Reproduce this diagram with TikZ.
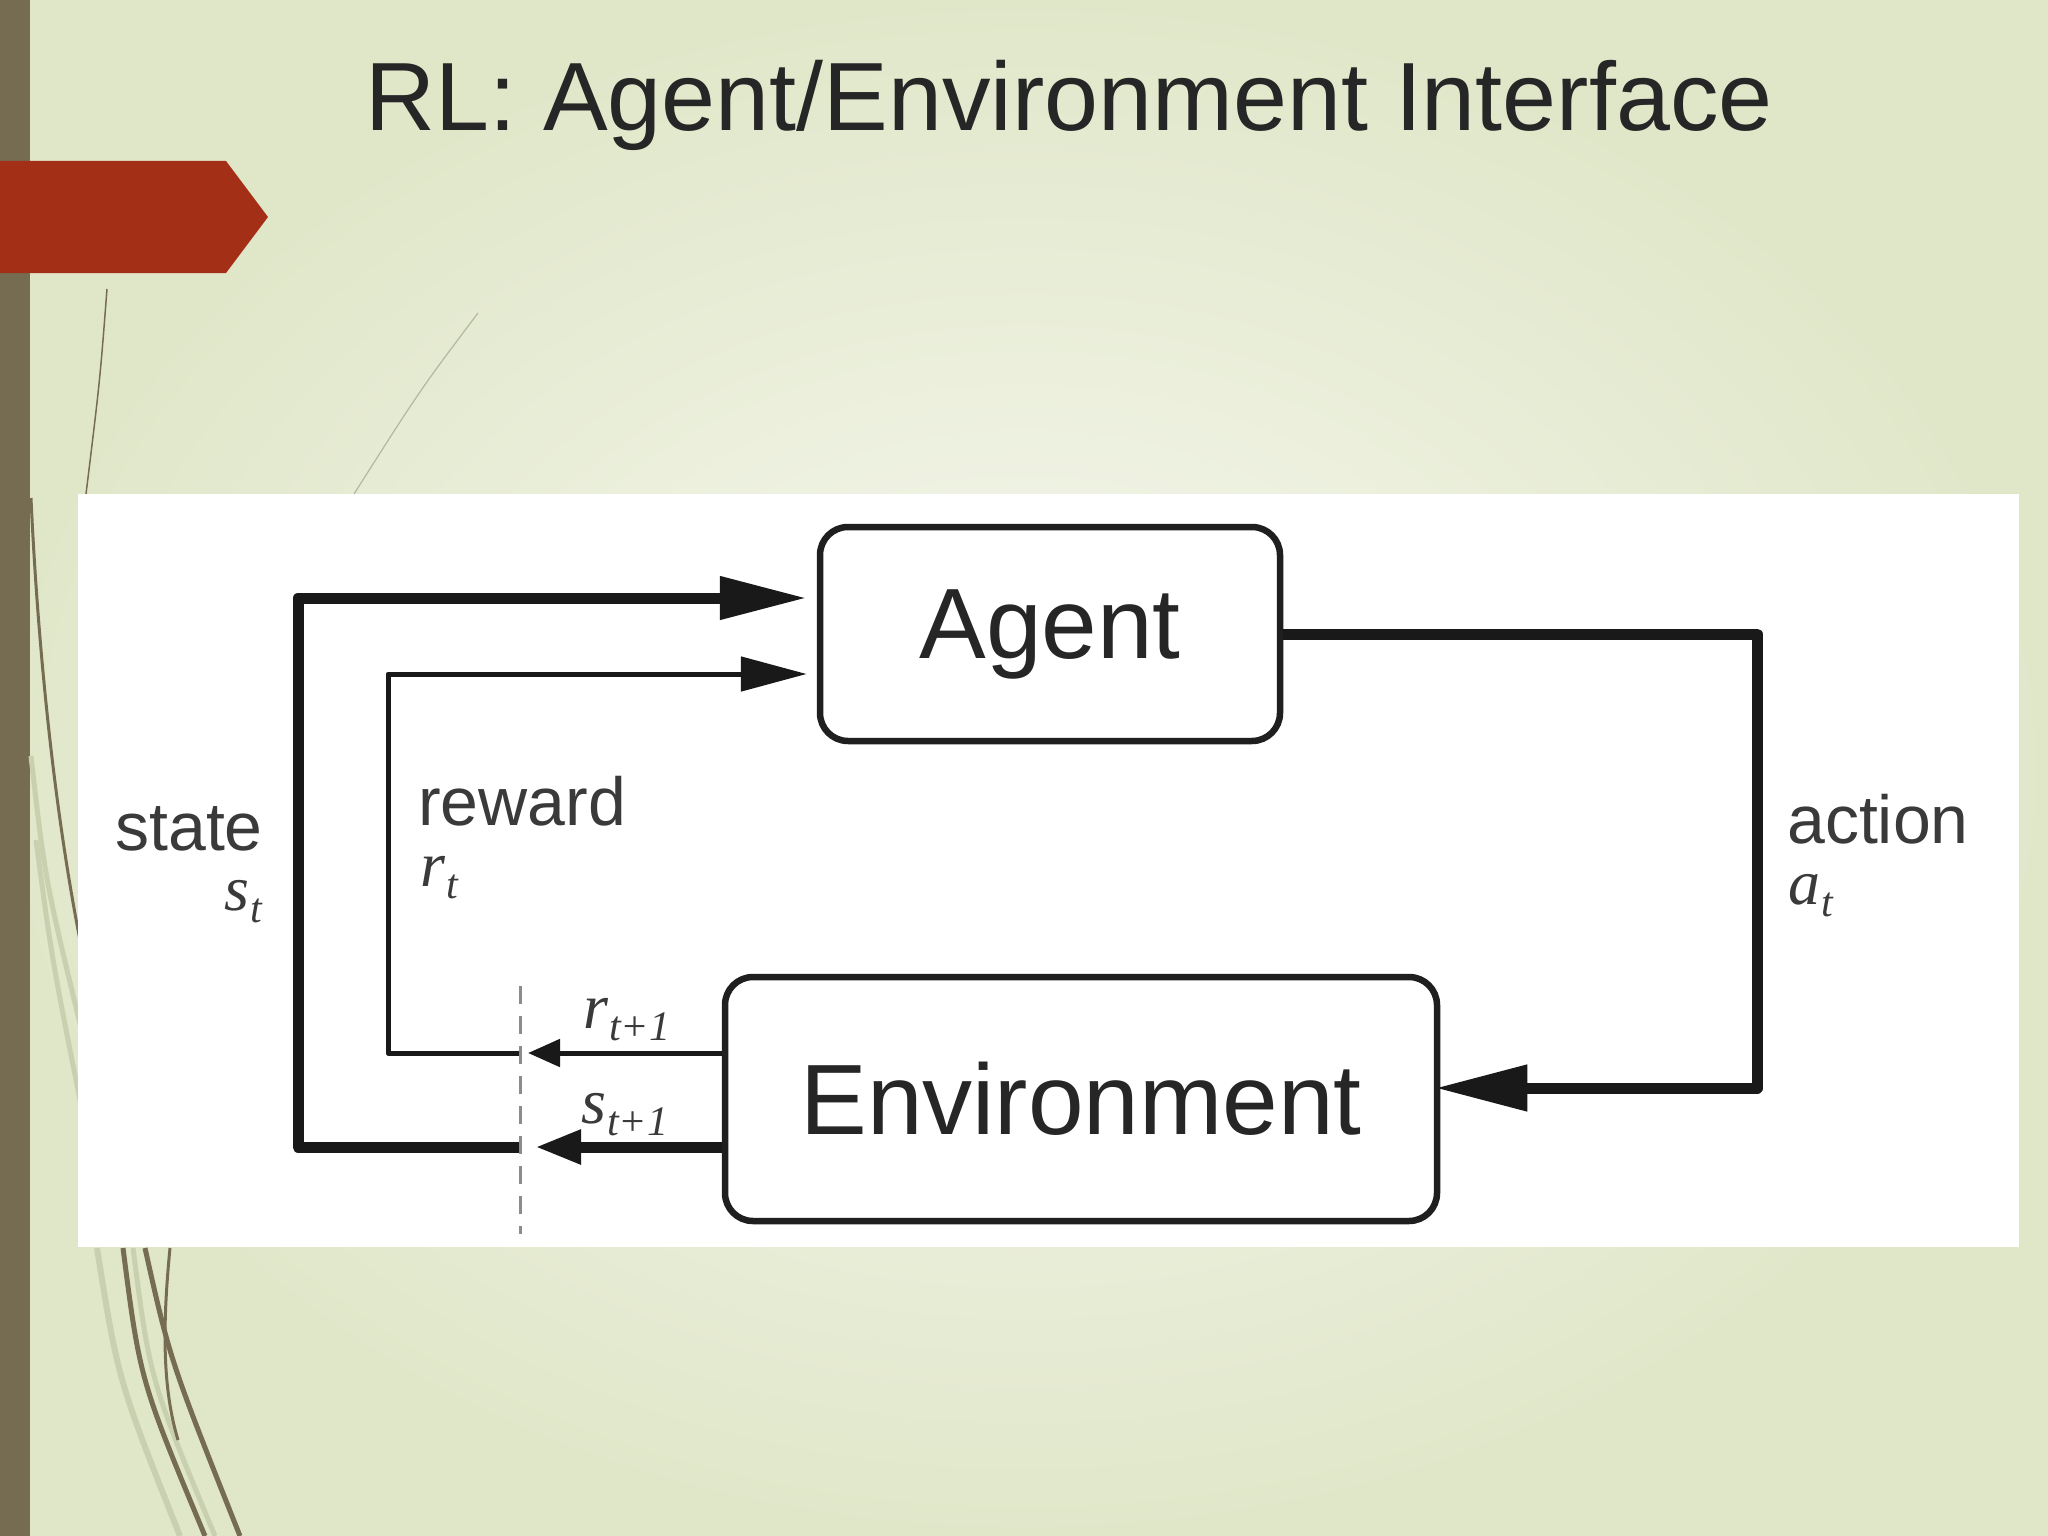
\documentclass[tikz,border=0pt]{standalone}
\usepackage{fontspec}
\setmainfont{Liberation Sans}
\newfontfamily\varfont{Liberation Serif}
\usetikzlibrary{arrows.meta}

\definecolor{slidebar}{HTML}{756C52}
\definecolor{slidered}{HTML}{A32F16}
\definecolor{bgout}{HTML}{E0E7C9}
\definecolor{bgin}{HTML}{F7F8F0}
\definecolor{curvelight}{HTML}{C9D0AF}
\definecolor{titleink}{HTML}{262626}
\definecolor{inkgray}{HTML}{3A3A3A}

\newcommand\rlvar[2]{{\varfont\itshape #1\kern1pt\raisebox{-12pt}{\fontsize{42}{46}\selectfont #2}}}

\tikzset{
  box/.style={draw=black!88,line width=6.5pt,rounded corners=28pt,fill=white,inner sep=0pt,
    text=black!85,font=\fontsize{100}{110}\selectfont},
  lbl/.style={inner sep=0pt,text=inkgray,font=\fontsize{68}{72}\selectfont},
  sym/.style={inner sep=0pt,text=inkgray,font=\fontsize{64}{68}\selectfont},
  thickflow/.style={draw=black!90,line width=11pt,line join=round},
  thinflow/.style={draw=black!90,line width=5pt,line join=round},
  gate/.style={draw=black!45,line width=3pt,dash pattern=on 18pt off 12pt},
  deco/.style={draw=slidebar,line width=4pt},
  decolight/.style={draw=curvelight,line width=5pt}
}

\begin{document}
\begin{tikzpicture}[x=1pt,y=-1pt]
    \useasboundingbox (0,0) rectangle (2048,1536);
    \shade[inner color=bgin,outer color=bgout] (0,0) rectangle (2048,1536);

    % slide decoration
    \fill[slidebar] (0,0) rectangle (30,1536);
    \fill[slidered] (0,161) -- (226,161) -- (268,217) -- (226,273) -- (0,273) -- cycle;
    \draw[slidebar,line width=1.5pt] (107,289) .. controls (100,380) .. (86,494);
    \draw[curvelight!70!gray,line width=1.2pt] (478,313) .. controls (420,390) .. (354,494);
    \draw[deco,line width=3pt] (31,498) .. controls (38,650) and (55,820) .. (84,960);
    \draw[decolight] (31,756) .. controls (45,880) .. (84,1040);
    \draw[decolight] (36,840) .. controls (52,960) .. (84,1120);
    \draw[decolight,line width=6pt] (97,1248) .. controls (118,1380) .. (180,1536);
    \draw[decolight] (133,1248) .. controls (150,1380) .. (215,1536);
    \draw[deco,line width=5pt] (123,1248) .. controls (140,1380) .. (205,1536);
    \draw[deco,line width=5pt] (145,1248) .. controls (170,1360) .. (240,1536);
    \draw[deco,line width=3pt] (170,1248) .. controls (162,1330) and (163,1390) .. (178,1440);

    \node[anchor=base,inner sep=0pt,text=titleink,font=\fontsize{97}{110}\selectfont] (title) at (1069,131) {RL: Agent/Environment Interface};

    \fill[white] (78,494) rectangle (2019,1247);

    \node[box,minimum width=460pt,minimum height=214pt] (agent) at (1050,634) {Agent};
    \node[box,minimum width=712pt,minimum height=244pt] (env) at (1081,1099) {Environment};

    \coordinate (sgate) at (520,1147);
    \coordinate (rgate) at (520,1053);
    \coordinate (scorner) at (298,598);
    \coordinate (rcorner) at (388,674);
    \coordinate (acorner) at (1757,1088);
    \coordinate (gtop) at (520,986);
    \coordinate (gbot) at (520,1234);

    \draw[thickflow,-{Triangle[length=87pt,width=41pt]},shorten >=10pt] (sgate) -| (scorner) -- ([yshift=36pt]agent.west);
    \draw[thinflow,-{Triangle[length=66pt,width=34pt]},shorten >=10pt] (rgate) -| (rcorner) -- ([yshift=-40pt]agent.west);
    \draw[thickflow,-{Triangle[length=92pt,width=44pt]},shorten >=-5pt] (agent.east) -| (acorner) -- ([yshift=11pt]env.east);
    \draw[thinflow,-{Triangle[length=32pt,width=27pt]},shorten >=8pt] ([yshift=46pt]env.west) -- (rgate);
    \draw[thickflow,-{Triangle[length=46pt,width=32pt]},shorten >=15pt] ([yshift=-48pt]env.west) -- (sgate);
    \draw[gate] (gtop) -- (gbot);

    \node[lbl,anchor=base east] (statelbl) at (263,850) {state};
    \node[sym,anchor=base east] (stvar) at (262,910) {\rlvar{s}{t}};
    \node[lbl,anchor=base west] (rewardlbl) at (418,825) {reward};
    \node[sym,anchor=base west] (rtvar) at (420,886) {\rlvar{r}{t}};
    \node[lbl,anchor=base west] (actionlbl) at (1787,843) {action};
    \node[sym,anchor=base west] (atvar) at (1788,904) {\rlvar{a}{t}};
    \node[sym,anchor=base west] (rnext) at (583,1028) {\rlvar{r}{t+1}};
    \node[sym,anchor=base west] (snext) at (581,1123) {\rlvar{s}{t+1}};
\end{tikzpicture}
\end{document}
